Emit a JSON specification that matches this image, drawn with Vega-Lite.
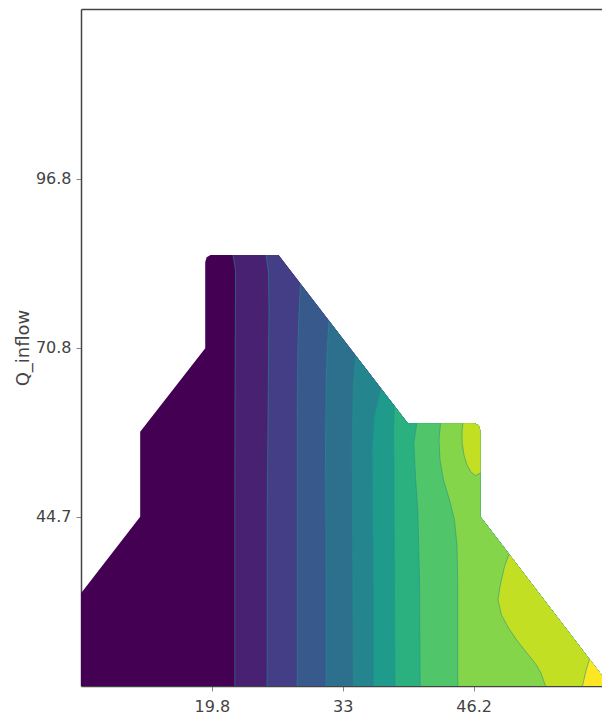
{
  "$schema": "https://vega.github.io/schema/vega-lite/v6.json",
  "width": 521,
  "height": 677,
  "autosize": {"type": "none"},
  "padding": {"left": 81, "top": 9, "right": 0, "bottom": 42},
  "data": {"values": [
    {"poly":1,"band":1,"i":0,"x":6.6,"y":18.65,"contour":0},
    {"poly":1,"band":1,"i":1,"x":6.6,"y":32.93,"contour":0},
    {"poly":1,"band":1,"i":2,"x":12.57,"y":44.73,"contour":0},
    {"poly":1,"band":1,"i":3,"x":12.57,"y":57.83,"contour":0},
    {"poly":1,"band":1,"i":4,"x":19.13,"y":70.68,"contour":0},
    {"poly":1,"band":1,"i":5,"x":19.13,"y":83.97,"contour":0},
    {"poly":1,"band":1,"i":6,"x":19.28,"y":84.71,"contour":0},
    {"poly":1,"band":1,"i":7,"x":19.66,"y":85.05,"contour":0},
    {"poly":1,"band":1,"i":8,"x":26.52,"y":85.05,"contour":0},
    {"poly":1,"band":1,"i":9,"x":39.56,"y":59.12,"contour":0},
    {"poly":1,"band":1,"i":10,"x":46.29,"y":59.12,"contour":0},
    {"poly":1,"band":1,"i":11,"x":46.72,"y":58.78,"contour":0},
    {"poly":1,"band":1,"i":12,"x":46.89,"y":57.94,"contour":0},
    {"poly":1,"band":1,"i":13,"x":46.89,"y":44.73,"contour":0},
    {"poly":1,"band":1,"i":14,"x":59.15,"y":20.27,"contour":0},
    {"poly":1,"band":1,"i":15,"x":59.15,"y":18.65,"contour":0},

    {"poly":2,"band":2,"i":0,"x":22.11,"y":18.65,"contour":1},
    {"poly":2,"band":2,"i":1,"x":22.11,"y":47.31,"contour":1},
    {"poly":2,"band":2,"i":2,"x":22.13,"y":62.71,"contour":1},
    {"poly":2,"band":2,"i":3,"x":22.18,"y":78.12,"contour":1},
    {"poly":2,"band":2,"i":4,"x":22.18,"y":82.74,"contour":1},
    {"poly":2,"band":2,"i":5,"x":21.93,"y":85.05,"contour":1},
    {"poly":2,"band":2,"i":6,"x":26.52,"y":85.05,"contour":0},
    {"poly":2,"band":2,"i":7,"x":39.56,"y":59.12,"contour":0},
    {"poly":2,"band":2,"i":8,"x":46.29,"y":59.12,"contour":0},
    {"poly":2,"band":2,"i":9,"x":46.72,"y":58.78,"contour":0},
    {"poly":2,"band":2,"i":10,"x":46.89,"y":57.94,"contour":0},
    {"poly":2,"band":2,"i":11,"x":46.89,"y":44.73,"contour":0},
    {"poly":2,"band":2,"i":12,"x":59.15,"y":20.27,"contour":0},
    {"poly":2,"band":2,"i":13,"x":59.15,"y":18.65,"contour":0},

    {"poly":3,"band":3,"i":0,"x":25.37,"y":18.65,"contour":1},
    {"poly":3,"band":3,"i":1,"x":25.39,"y":47.31,"contour":1},
    {"poly":3,"band":3,"i":2,"x":25.48,"y":62.71,"contour":1},
    {"poly":3,"band":3,"i":3,"x":25.56,"y":76.58,"contour":1},
    {"poly":3,"band":3,"i":4,"x":25.51,"y":82.43,"contour":1},
    {"poly":3,"band":3,"i":5,"x":25.26,"y":85.05,"contour":1},
    {"poly":3,"band":3,"i":6,"x":26.52,"y":85.05,"contour":0},
    {"poly":3,"band":3,"i":7,"x":39.56,"y":59.12,"contour":0},
    {"poly":3,"band":3,"i":8,"x":46.29,"y":59.12,"contour":0},
    {"poly":3,"band":3,"i":9,"x":46.72,"y":58.78,"contour":0},
    {"poly":3,"band":3,"i":10,"x":46.89,"y":57.94,"contour":0},
    {"poly":3,"band":3,"i":11,"x":46.89,"y":44.73,"contour":0},
    {"poly":3,"band":3,"i":12,"x":59.15,"y":20.27,"contour":0},
    {"poly":3,"band":3,"i":13,"x":59.15,"y":18.65,"contour":0},

    {"poly":4,"band":4,"i":0,"x":28.41,"y":18.65,"contour":1},
    {"poly":4,"band":4,"i":1,"x":28.41,"y":60.14,"contour":1},
    {"poly":4,"band":4,"i":2,"x":28.47,"y":70.41,"contour":1},
    {"poly":4,"band":4,"i":3,"x":28.57,"y":75.54,"contour":1},
    {"poly":4,"band":4,"i":4,"x":28.74,"y":80.64,"contour":1},
    {"poly":4,"band":4,"i":5,"x":39.56,"y":59.12,"contour":0},
    {"poly":4,"band":4,"i":6,"x":46.29,"y":59.12,"contour":0},
    {"poly":4,"band":4,"i":7,"x":46.72,"y":58.78,"contour":0},
    {"poly":4,"band":4,"i":8,"x":46.89,"y":57.94,"contour":0},
    {"poly":4,"band":4,"i":9,"x":46.89,"y":44.73,"contour":0},
    {"poly":4,"band":4,"i":10,"x":59.15,"y":20.27,"contour":0},
    {"poly":4,"band":4,"i":11,"x":59.15,"y":18.65,"contour":0},

    {"poly":5,"band":5,"i":0,"x":31.33,"y":18.65,"contour":1},
    {"poly":5,"band":5,"i":1,"x":31.33,"y":34.52,"contour":1},
    {"poly":5,"band":5,"i":2,"x":31.26,"y":55.01,"contour":1},
    {"poly":5,"band":5,"i":3,"x":31.33,"y":65.33,"contour":1},
    {"poly":5,"band":5,"i":4,"x":31.43,"y":70.41,"contour":1},
    {"poly":5,"band":5,"i":5,"x":31.61,"y":74.93,"contour":1},
    {"poly":5,"band":5,"i":6,"x":39.56,"y":59.12,"contour":0},
    {"poly":5,"band":5,"i":7,"x":46.29,"y":59.12,"contour":0},
    {"poly":5,"band":5,"i":8,"x":46.72,"y":58.78,"contour":0},
    {"poly":5,"band":5,"i":9,"x":46.89,"y":57.94,"contour":0},
    {"poly":5,"band":5,"i":10,"x":46.89,"y":44.73,"contour":0},
    {"poly":5,"band":5,"i":11,"x":59.15,"y":20.27,"contour":0},
    {"poly":5,"band":5,"i":12,"x":59.15,"y":18.65,"contour":0},

    {"poly":6,"band":6,"i":0,"x":34.08,"y":18.65,"contour":1},
    {"poly":6,"band":6,"i":1,"x":34.01,"y":39.6,"contour":1},
    {"poly":6,"band":6,"i":2,"x":33.95,"y":55.01,"contour":1},
    {"poly":6,"band":6,"i":3,"x":34.08,"y":65.33,"contour":1},
    {"poly":6,"band":6,"i":4,"x":34.34,"y":69.5,"contour":1},
    {"poly":6,"band":6,"i":5,"x":39.56,"y":59.12,"contour":0},
    {"poly":6,"band":6,"i":6,"x":46.29,"y":59.12,"contour":0},
    {"poly":6,"band":6,"i":7,"x":46.72,"y":58.78,"contour":0},
    {"poly":6,"band":6,"i":8,"x":46.89,"y":57.94,"contour":0},
    {"poly":6,"band":6,"i":9,"x":46.89,"y":44.73,"contour":0},
    {"poly":6,"band":6,"i":10,"x":59.15,"y":20.27,"contour":0},
    {"poly":6,"band":6,"i":11,"x":59.15,"y":18.65,"contour":0},

    {"poly":7,"band":7,"i":0,"x":36.1,"y":18.65,"contour":1},
    {"poly":7,"band":7,"i":1,"x":36.1,"y":34.52,"contour":1},
    {"poly":7,"band":7,"i":2,"x":36.03,"y":44.73,"contour":1},
    {"poly":7,"band":7,"i":3,"x":35.97,"y":55.01,"contour":1},
    {"poly":7,"band":7,"i":4,"x":36.2,"y":60.14,"contour":1},
    {"poly":7,"band":7,"i":5,"x":36.88,"y":64.45,"contour":1},
    {"poly":7,"band":7,"i":6,"x":39.56,"y":59.12,"contour":0},
    {"poly":7,"band":7,"i":7,"x":46.29,"y":59.12,"contour":0},
    {"poly":7,"band":7,"i":8,"x":46.72,"y":58.78,"contour":0},
    {"poly":7,"band":7,"i":9,"x":46.89,"y":57.94,"contour":0},
    {"poly":7,"band":7,"i":10,"x":46.89,"y":44.73,"contour":0},
    {"poly":7,"band":7,"i":11,"x":59.15,"y":20.27,"contour":0},
    {"poly":7,"band":7,"i":12,"x":59.15,"y":18.65,"contour":0},

    {"poly":8,"band":8,"i":0,"x":38.27,"y":18.65,"contour":1},
    {"poly":8,"band":8,"i":1,"x":38.22,"y":31.9,"contour":1},
    {"poly":8,"band":8,"i":2,"x":38.17,"y":47.31,"contour":1},
    {"poly":8,"band":8,"i":3,"x":38.15,"y":55.01,"contour":1},
    {"poly":8,"band":8,"i":4,"x":38.12,"y":58.09,"contour":1},
    {"poly":8,"band":8,"i":5,"x":38.2,"y":61.83,"contour":1},
    {"poly":8,"band":8,"i":6,"x":39.56,"y":59.12,"contour":0},
    {"poly":8,"band":8,"i":7,"x":46.29,"y":59.12,"contour":0},
    {"poly":8,"band":8,"i":8,"x":46.72,"y":58.78,"contour":0},
    {"poly":8,"band":8,"i":9,"x":46.89,"y":57.94,"contour":0},
    {"poly":8,"band":8,"i":10,"x":46.89,"y":44.73,"contour":0},
    {"poly":8,"band":8,"i":11,"x":59.15,"y":20.27,"contour":0},
    {"poly":8,"band":8,"i":12,"x":59.15,"y":18.65,"contour":0},

    {"poly":9,"band":9,"i":0,"x":40.81,"y":18.65,"contour":1},
    {"poly":9,"band":9,"i":1,"x":40.74,"y":35.49,"contour":1},
    {"poly":9,"band":9,"i":2,"x":40.57,"y":45.76,"contour":1},
    {"poly":9,"band":9,"i":3,"x":40.34,"y":50.89,"contour":1},
    {"poly":9,"band":9,"i":4,"x":40.17,"y":56.04,"contour":1},
    {"poly":9,"band":9,"i":5,"x":40.47,"y":59.12,"contour":1},
    {"poly":9,"band":9,"i":6,"x":46.29,"y":59.12,"contour":0},
    {"poly":9,"band":9,"i":7,"x":46.72,"y":58.78,"contour":0},
    {"poly":9,"band":9,"i":8,"x":46.89,"y":57.94,"contour":0},
    {"poly":9,"band":9,"i":9,"x":46.89,"y":44.73,"contour":0},
    {"poly":9,"band":9,"i":10,"x":59.15,"y":20.27,"contour":0},
    {"poly":9,"band":9,"i":11,"x":59.15,"y":18.65,"contour":0},

    {"poly":10,"band":10,"i":0,"x":44.6,"y":18.65,"contour":1},
    {"poly":10,"band":10,"i":1,"x":44.6,"y":34.98,"contour":1},
    {"poly":10,"band":10,"i":2,"x":44.52,"y":40.37,"contour":1},
    {"poly":10,"band":10,"i":3,"x":44.27,"y":44.22,"contour":1},
    {"poly":10,"band":10,"i":4,"x":43.77,"y":47.31,"contour":1},
    {"poly":10,"band":10,"i":5,"x":43.16,"y":50.39,"contour":1},
    {"poly":10,"band":10,"i":6,"x":42.81,"y":53.47,"contour":1},
    {"poly":10,"band":10,"i":7,"x":42.71,"y":56.55,"contour":1},
    {"poly":10,"band":10,"i":8,"x":42.86,"y":59.12,"contour":1},
    {"poly":10,"band":10,"i":9,"x":46.29,"y":59.12,"contour":0},
    {"poly":10,"band":10,"i":10,"x":46.72,"y":58.78,"contour":0},
    {"poly":10,"band":10,"i":11,"x":46.89,"y":57.94,"contour":0},
    {"poly":10,"band":10,"i":12,"x":46.89,"y":44.73,"contour":0},
    {"poly":10,"band":10,"i":13,"x":59.15,"y":20.27,"contour":0},
    {"poly":10,"band":10,"i":14,"x":59.15,"y":18.65,"contour":0},

    {"poly":11,"band":11,"i":0,"x":53.45,"y":18.65,"contour":1},
    {"poly":11,"band":11,"i":1,"x":52.99,"y":20.65,"contour":1},
    {"poly":11,"band":11,"i":2,"x":52.54,"y":21.89,"contour":1},
    {"poly":11,"band":11,"i":3,"x":51.73,"y":23.43,"contour":1},
    {"poly":11,"band":11,"i":4,"x":50.62,"y":25.58,"contour":1},
    {"poly":11,"band":11,"i":5,"x":49.72,"y":27.59,"contour":1},
    {"poly":11,"band":11,"i":6,"x":49.01,"y":29.59,"contour":1},
    {"poly":11,"band":11,"i":7,"x":48.66,"y":31.9,"contour":1},
    {"poly":11,"band":11,"i":8,"x":48.86,"y":33.95,"contour":1},
    {"poly":11,"band":11,"i":9,"x":49.31,"y":37.03,"contour":1},
    {"poly":11,"band":11,"i":10,"x":49.77,"y":38.99,"contour":1},
    {"poly":11,"band":11,"i":11,"x":59.15,"y":20.27,"contour":0},
    {"poly":11,"band":11,"i":12,"x":59.15,"y":18.65,"contour":0},

    {"poly":12,"band":11,"i":0,"x":45.11,"y":59.12,"contour":1},
    {"poly":12,"band":11,"i":1,"x":45.03,"y":57.78,"contour":1},
    {"poly":12,"band":11,"i":2,"x":45.05,"y":56.04,"contour":1},
    {"poly":12,"band":11,"i":3,"x":45.23,"y":54.24,"contour":1},
    {"poly":12,"band":11,"i":4,"x":45.53,"y":52.7,"contour":1},
    {"poly":12,"band":11,"i":5,"x":45.93,"y":51.62,"contour":1},
    {"poly":12,"band":11,"i":6,"x":46.39,"y":51.08,"contour":1},
    {"poly":12,"band":11,"i":7,"x":46.89,"y":51.46,"contour":1},
    {"poly":12,"band":11,"i":8,"x":46.89,"y":57.94,"contour":0},
    {"poly":12,"band":11,"i":9,"x":46.72,"y":58.78,"contour":0},
    {"poly":12,"band":11,"i":10,"x":46.29,"y":59.12,"contour":0},

    {"poly":13,"band":12,"i":0,"x":57.18,"y":18.65,"contour":1},
    {"poly":13,"band":12,"i":1,"x":57.53,"y":20.96,"contour":1},
    {"poly":13,"band":12,"i":2,"x":57.89,"y":22.79,"contour":1},
    {"poly":13,"band":12,"i":3,"x":59.15,"y":20.27,"contour":0},
    {"poly":13,"band":12,"i":4,"x":59.15,"y":18.65,"contour":0}
  ]},
  "encoding": {
    "y": {
      "field": "y", "type": "quantitative",
      "scale": {"domain": [18.65, 122.95], "nice": false, "zero": false},
      "axis": {
        "values": [44.7, 70.8, 96.8], "format": ".3~r",
        "title": "Q_inflow", "titleFontSize": 18, "titleFontWeight": "normal",
        "titleColor": "#444", "titlePadding": 3, "titleFont": "DejaVu Sans",
        "grid": false, "domainColor": "#444", "domainWidth": 1.5,
        "tickColor": "#888", "tickSize": 5, "labelPadding": 5,
        "labelFontSize": 16, "labelColor": "#444", "labelFont": "DejaVu Sans"
      }
    },
    "order": {"field": "i", "type": "quantitative"},
    "detail": {"field": "poly", "type": "nominal"}
  },
  "layer": [
    {
      "encoding": {
        "x": {
          "field": "x", "type": "quantitative",
          "scale": {"domain": [6.6, 59.15], "nice": false, "zero": false},
          "axis": {
            "values": [19.8, 33, 46.2], "format": ".3~r", "title": null,
            "grid": false, "domainColor": "#444", "domainWidth": 1.5,
            "tickColor": "#888", "tickSize": 5, "labelPadding": 7,
            "labelFontSize": 16, "labelColor": "#444", "labelFont": "DejaVu Sans"
          }
        },
        "fill": {
          "field": "band", "type": "ordinal", "legend": null,
          "scale": {
            "domain": [1, 2, 3, 4, 5, 6, 7, 8, 9, 10, 11, 12],
            "range": ["#440154", "#482173", "#433E85", "#38598C", "#2D708E", "#25858E", "#1E9B8A", "#2BB07F", "#51C56A", "#85D54A", "#C2DF23", "#FDE725"]
          }
        }
      },
      "layer": [
        {"transform": [{"filter": "datum.poly == 1"}], "mark": {"type": "line", "strokeWidth": 0}},
        {"transform": [{"filter": "datum.poly == 2"}], "mark": {"type": "line", "strokeWidth": 0}},
        {"transform": [{"filter": "datum.poly == 3"}], "mark": {"type": "line", "strokeWidth": 0}},
        {"transform": [{"filter": "datum.poly == 4"}], "mark": {"type": "line", "strokeWidth": 0}},
        {"transform": [{"filter": "datum.poly == 5"}], "mark": {"type": "line", "strokeWidth": 0}},
        {"transform": [{"filter": "datum.poly == 6"}], "mark": {"type": "line", "strokeWidth": 0}},
        {"transform": [{"filter": "datum.poly == 7"}], "mark": {"type": "line", "strokeWidth": 0}},
        {"transform": [{"filter": "datum.poly == 8"}], "mark": {"type": "line", "strokeWidth": 0}},
        {"transform": [{"filter": "datum.poly == 9"}], "mark": {"type": "line", "strokeWidth": 0}},
        {"transform": [{"filter": "datum.poly == 10"}], "mark": {"type": "line", "strokeWidth": 0}},
        {"transform": [{"filter": "datum.poly == 11"}], "mark": {"type": "line", "strokeWidth": 0}},
        {"transform": [{"filter": "datum.poly == 12"}], "mark": {"type": "line", "strokeWidth": 0}},
        {"transform": [{"filter": "datum.poly == 13"}], "mark": {"type": "line", "strokeWidth": 0}}
      ]
    },
    {
      "transform": [{"filter": "datum.contour == 1"}],
      "mark": {"type": "line", "stroke": "#21918c", "strokeOpacity": 0.55, "strokeWidth": 1},
      "encoding": {
        "x": {
          "field": "x", "type": "quantitative",
          "scale": {"domain": [6.6, 59.15], "nice": false, "zero": false},
          "axis": {"orient": "top", "title": null, "labels": false, "ticks": false, "grid": false, "domainColor": "#444", "domainWidth": 1.5}
        }
      }
    }
  ],
  "resolve": {"axis": {"x": "independent"}},
  "config": {
    "view": {"stroke": null},
    "font": "DejaVu Sans",
    "background": "white"
  }
}
